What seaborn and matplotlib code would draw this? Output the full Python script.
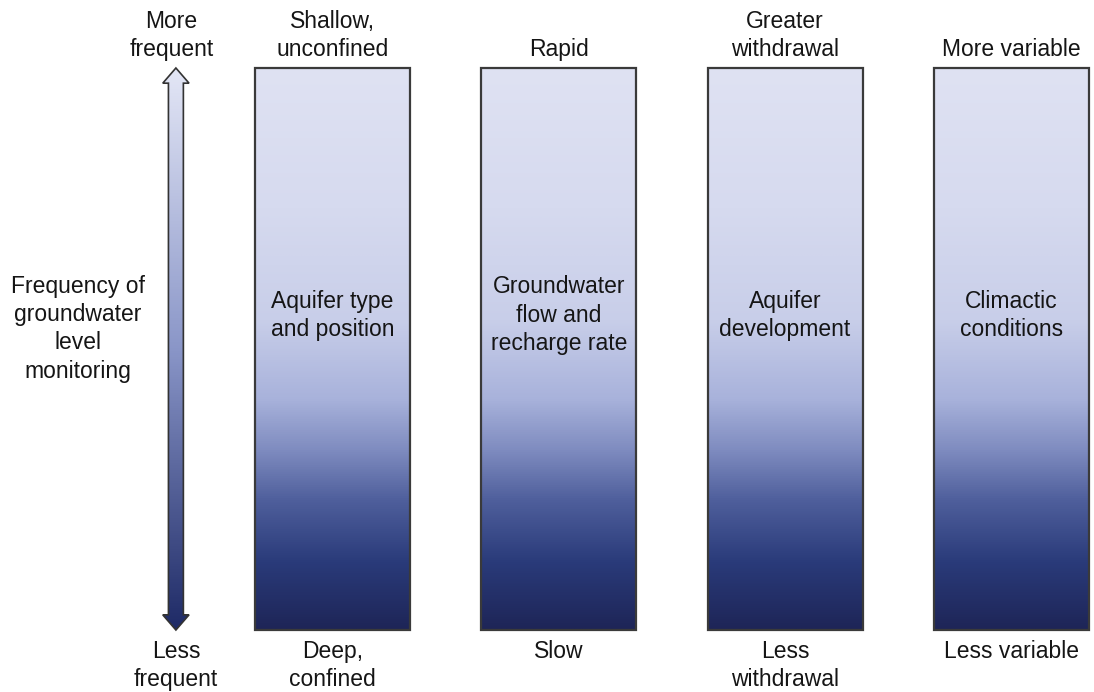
import numpy as np
import pandas as pd
import matplotlib
matplotlib.use("Agg")
import matplotlib.pyplot as plt
import seaborn as sns
from matplotlib.colors import LinearSegmentedColormap
from matplotlib.patches import Polygon

# ---- content ----
factors = ["Aquifer type\nand position", "Groundwater\nflow and\nrecharge rate",
           "Aquifer\ndevelopment", "Climactic\nconditions"]
high_labels = ["Shallow,\nunconfined", "Rapid", "Greater\nwithdrawal", "More variable"]
low_labels = ["Deep,\nconfined", "Slow", "Less\nwithdrawal", "Less variable"]
scale = [1.0, 1.0, 1.0, 1.0]
axis_title = "Frequency of\ngroundwater\nlevel\nmonitoring"
axis_high = "More\nfrequent"
axis_low = "Less\nfrequent"

# gradient stops (0 = bottom, 1 = top)
grad_pos = [0.0, 0.12, 0.23, 0.32, 0.41, 0.55, 0.75, 1.0]
grad_col = ["#1e2557", "#2a3b7a", "#4f5f9c", "#7f8cc0", "#a8b2db", "#c8cee9", "#d6daef", "#dfe2f3"]
arrow_pos = [0.0, 0.5, 1.0]
arrow_col = ["#1e2a66", "#8a96c8", "#e4e7f6"]

sns.set_theme(style="white")
plt.rcParams['font.family'] = ['Liberation Sans', 'DejaVu Sans']

cmap = LinearSegmentedColormap.from_list("bar", list(zip(grad_pos, grad_col)))
acmap = LinearSegmentedColormap.from_list("arr", list(zip(arrow_pos, arrow_col)))

fig = plt.figure(figsize=(10.94, 6.92), dpi=100)
ax = fig.add_axes([0, 0, 1, 1])
df = pd.DataFrame({"factor": factors, "scale": scale})
sns.barplot(data=df, x="factor", y="scale", ax=ax, width=0.685, color="white")

grad = np.linspace(0, 1, 512).reshape(-1, 1)
for p in ax.patches:
    x0, y0, w, h = p.get_x(), p.get_y(), p.get_width(), p.get_height()
    p.set_facecolor("none")
    p.set_edgecolor("#3a3a3a")
    p.set_linewidth(1.6)
    p.set_zorder(3)
    im = ax.imshow(grad, extent=[x0, x0 + w, y0, y0 + h], origin="lower",
                   aspect="auto", cmap=cmap, zorder=2, interpolation="bilinear")
    im.set_clip_path(p)

fs = 16.5
ls = 1.3
tc = "#151515"
for i, (f, hi, lo) in enumerate(zip(factors, high_labels, low_labels)):
    ax.text(i, 0.56, f, ha="center", va="center", fontsize=fs, linespacing=ls,
            color=tc, zorder=4)
    ax.text(i, 1.012, hi, ha="center", va="bottom", fontsize=fs, linespacing=ls,
            color=tc)
    ax.text(i, -0.017, lo, ha="center", va="top", fontsize=fs, linespacing=ls,
            color=tc)

# double-headed gradient arrow
ax_x = -0.692
hs, hh, hl = 0.033, 0.058, 0.027
pts = [(ax_x - hs, hl), (ax_x - hh, hl), (ax_x, 0), (ax_x + hh, hl), (ax_x + hs, hl),
       (ax_x + hs, 1 - hl), (ax_x + hh, 1 - hl), (ax_x, 1), (ax_x - hh, 1 - hl), (ax_x - hs, 1 - hl)]
arrow = Polygon(pts, closed=True, facecolor="none", edgecolor="#333333", linewidth=1.2, zorder=3)
ax.add_patch(arrow)
aim = ax.imshow(grad, extent=[ax_x - hh, ax_x + hh, 0, 1], origin="lower", aspect="auto",
                cmap=acmap, zorder=2, interpolation="bilinear")
aim.set_clip_path(arrow)

ax.text(ax_x - 0.02, 1.012, axis_high, ha="center", va="bottom", fontsize=fs, linespacing=ls, color=tc)
ax.text(ax_x, -0.017, axis_low, ha="center", va="top", fontsize=fs, linespacing=ls, color=tc)
ax.text(-1.125, 0.536, axis_title, ha="center", va="center", fontsize=fs, linespacing=ls, color=tc)

ax.set_xlim(-1.4693, 3.3650)
ax.set_ylim(-0.1103, 1.1210)
ax.set_axis_off()
fig.savefig("out.png", dpi=100)
